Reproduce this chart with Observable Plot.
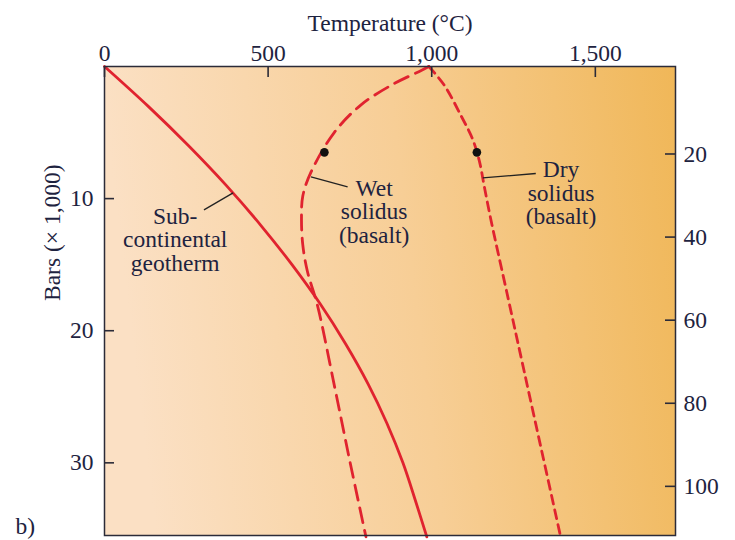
<!DOCTYPE html>
<html><head><meta charset="utf-8">
<script src="https://cdn.jsdelivr.net/npm/d3@7"></script>
<script src="https://cdn.jsdelivr.net/npm/@observablehq/plot@0.6"></script>
<style>body{margin:0;background:#fff}</style>
</head><body><div id="chart"></div>
<script>
// Axis ticks
const tempTicks = [0, 500, 1000, 1500];
const pressureTicks = [10, 20, 30];
const depthTicks = [20, 40, 60, 80, 100];

// Sub-continental geotherm (T °C, P kbar)
const geothermT = [0, 133, 257, 372, 477, 573, 660, 737, 805, 863, 912, 952, 985];
const geothermP = [0, 3, 6, 9, 12, 15, 18, 21, 24, 27, 30, 33, 35.6];

// Wet solidus (basalt)
const wetT = [991, 968, 885, 784, 702, 631, 606, 602, 606, 620, 651, 702, 750, 799];
const wetP = [0, 0.3, 1.3, 2.9, 5.0, 8.0, 9.8, 11.5, 13.5, 15.5, 18.1, 24.1, 29.9, 35.6];

// Dry solidus (basalt)
const dryT = [991, 1038, 1089, 1125, 1146, 1160, 1180, 1234, 1281, 1337, 1394];
const dryP = [0, 1.4, 3.7, 5.5, 7.2, 9.0, 11.5, 17.6, 22.9, 29.2, 35.6];

// Marked points at ~20 km
const dotT = [672, 1138];
const dotP = [6.5, 6.5];

// Curve labels
const labelText = ["Sub-\ncontinental\ngeotherm", "Wet\nsolidus\n(basalt)", "Dry\nsolidus\n(basalt)"];
const labelT = [216, 824, 1395];
const labelP = [13.1, 11.0, 9.6];
// Leader lines
const leaderT1 = [304, 631, 1156];
const leaderP1 = [10.85, 8.36, 8.43];
const leaderT2 = [393, 743, 1318];
const leaderP2 = [9.57, 9.11, 8.1];

const depthToKbar = d => (d + 1.06) / 3.18;

const toRows = (xs, ys) => xs.map((x, i) => ({T: x, P: ys[i]}));
const red = "#e0232f";
const ink = "#1e2340";
const axisInk = "#2b2b38";
const font = "Liberation Serif";
const fs = 23.5;
const W = 735, H = 540, mL = 104, mR = 60, mT = 66, mB = 5;
const frameW = W - mL - mR, frameH = H - mT - mB;
const xMax = 1745, yMax = 35.5;
// tick lengths (10–11 px) expressed in data units
const tickLenT = 10 * xMax / frameW;
const tickLenP = 11 * yMax / frameH;

const chart = Plot.plot({
  width: W, height: H,
  marginLeft: mL, marginRight: mR, marginTop: mT, marginBottom: mB,
  style: {fontFamily: font, fontSize: fs + "px", color: ink, background: "transparent", overflow: "visible"},
  x: {domain: [0, xMax]},
  y: {domain: [0, yMax], reverse: true},
  marks: [
    Plot.frame({fill: "url(#bg)", stroke: "none"}),
    Plot.line(toRows(geothermT, geothermP), {x: "T", y: "P", stroke: red, strokeWidth: 2.8, curve: "catmull-rom"}),
    Plot.line(toRows(wetT, wetP), {x: "T", y: "P", stroke: red, strokeWidth: 2.8, strokeDasharray: "15,8", curve: "catmull-rom"}),
    Plot.line(toRows(dryT, dryP), {x: "T", y: "P", stroke: red, strokeWidth: 2.8, strokeDasharray: "9,6", curve: "catmull-rom"}),
    Plot.dot(toRows(dotT, dotP), {x: "T", y: "P", r: 4.3, fill: "#111", stroke: "none"}),
    Plot.link(leaderT1.map((t, i) => ({x1: t, y1: leaderP1[i], x2: leaderT2[i], y2: leaderP2[i]})), {x1: "x1", y1: "y1", x2: "x2", y2: "y2", stroke: "#222", strokeWidth: 1.3}),
    Plot.text(labelText.map((s, i) => ({s, T: labelT[i], P: labelP[i]})), {x: "T", y: "P", text: "s", fontSize: fs, lineHeight: 1.0, fill: ink, textAnchor: "middle"}),
    Plot.frame({stroke: axisInk, strokeWidth: 1.5}),
    // inward ticks
    Plot.ruleX(tempTicks, {x: d => d, y1: 0, y2: tickLenP, stroke: axisInk, strokeWidth: 1.6}),
    Plot.ruleY(pressureTicks, {y: d => d, x1: 0, x2: tickLenT, stroke: axisInk, strokeWidth: 1.6}),
    Plot.ruleY(depthTicks.map(depthToKbar), {y: d => d, x1: xMax - tickLenT, x2: xMax, stroke: axisInk, strokeWidth: 1.6}),
    // tick labels
    Plot.axisX(tempTicks, {anchor: "top", tickSize: 0, tickPadding: 6, tickFormat: d3.format(","), fill: ink, fontSize: fs, label: null}),
    Plot.axisY(pressureTicks, {anchor: "left", tickSize: 0, tickPadding: 11, fill: ink, fontSize: fs, label: null}),
    Plot.axisY(depthTicks.map(depthToKbar), {anchor: "right", tickSize: 0, tickPadding: 8, tickFormat: (d, i) => depthTicks[i], fill: ink, fontSize: fs, label: null}),
    // titles
    Plot.text(["Temperature (°C)"], {text: d => d, frameAnchor: "top", lineAnchor: "middle", dy: -43.5, fontSize: fs, fill: ink}),
    Plot.text(["Bars (× 1,000)"], {text: d => d, frameAnchor: "left", lineAnchor: "middle", dx: -52, rotate: -90, fontSize: fs, fill: ink}),
    Plot.text(["b)"], {text: d => d, frameAnchor: "bottom-left", lineAnchor: "middle", dx: -89, dy: -9, fontSize: fs, fill: ink, textAnchor: "start"})
  ]
});

const svg = d3.select(chart);
const lg = svg.insert("defs", ":first-child").append("linearGradient")
  .attr("id", "bg").attr("x1", 0).attr("y1", 0.1).attr("x2", 1).attr("y2", 0);
lg.append("stop").attr("offset", "0%").attr("stop-color", "#fbe0c4");
lg.append("stop").attr("offset", "50%").attr("stop-color", "#f7ce96");
lg.append("stop").attr("offset", "100%").attr("stop-color", "#f0b758");

document.getElementById("chart").appendChild(chart);
</script>
</body></html>
